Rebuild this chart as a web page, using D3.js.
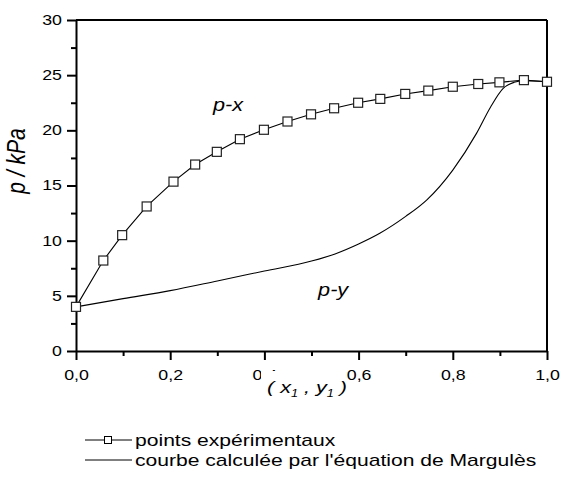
<!DOCTYPE html>
<html>
<head>
<meta charset="utf-8">
<script src="https://cdn.jsdelivr.net/npm/d3@7"></script>
<style>
  body { margin: 0; background: #fff; }
  svg { font-family: "Liberation Sans", Arial, sans-serif; }
  .axis path, .axis line { stroke: #000; stroke-width: 2; }
  .axis text { font-size: 14px; fill: #000; }
</style>
</head>
<body>
<svg width="561" height="479"></svg>
<script>
// experimental points (p-x)
var expX = [0, 0.058, 0.098, 0.15, 0.207, 0.253, 0.299, 0.348, 0.399, 0.449, 0.499,
            0.548, 0.599, 0.646, 0.699, 0.748, 0.80, 0.854, 0.899, 0.951, 1.0];
var expP = [4.0, 8.2, 10.5, 13.1, 15.35, 16.9, 18.05, 19.2, 20.05, 20.8, 21.45,
            22.0, 22.5, 22.85, 23.3, 23.6, 23.95, 24.2, 24.35, 24.55, 24.4];

// calculated curve (Margules) p-y
var calcY = [0, 0.1, 0.2, 0.3, 0.4, 0.5, 0.55, 0.6, 0.645, 0.7, 0.745, 0.8, 0.85, 0.88, 0.907, 0.93, 0.95, 1.0];
var calcP = [4.0, 4.75, 5.47, 6.35, 7.25, 8.15, 8.8, 9.7, 10.67, 12.2, 13.7, 16.4, 19.7, 22.1, 23.8, 24.35, 24.5, 24.4];

var xTicks = [0, 0.2, 0.4, 0.6, 0.8, 1.0];
var xMinor = [0.1, 0.3, 0.5, 0.7, 0.9];
var yTicks = [0, 5, 10, 15, 20, 25, 30];
var yMinor = [2.5, 7.5, 12.5, 17.5, 22.5, 27.5];

var legendLabels = ["points expérimentaux", "courbe calculée par l'équation de Margulès"];

var sx = 1.27; // horizontal stretch of the text in the picture

var svg = d3.select("svg");

var x = d3.scaleLinear().domain([0, 1]).range([76, 547]);
var y = d3.scaleLinear().domain([0, 30]).range([351, 20]);

// frame top / right
svg.append("line").attr("x1", x(0)).attr("x2", x(1)).attr("y1", y(30)).attr("y2", y(30))
  .attr("stroke", "#000").attr("stroke-width", 2);
svg.append("line").attr("x1", x(1)).attr("x2", x(1)).attr("y1", y(30)).attr("y2", y(0))
  .attr("stroke", "#000").attr("stroke-width", 2);

// minor ticks
svg.append("g").attr("class", "axis")
  .attr("transform", "translate(0," + y(0) + ")")
  .call(d3.axisBottom(x).tickValues(xMinor).tickSize(5).tickFormat(""))
  .select(".domain").remove();
svg.append("g").attr("class", "axis")
  .attr("transform", "translate(" + x(0) + ",0)")
  .call(d3.axisLeft(y).tickValues(yMinor).tickSize(5).tickFormat(""))
  .select(".domain").remove();

var xAxis = svg.append("g").attr("class", "axis")
  .attr("transform", "translate(0," + y(0) + ")")
  .call(d3.axisBottom(x).tickValues(xTicks).tickSizeInner(9).tickSizeOuter(0).tickPadding(10)
        .tickFormat(d => d3.format(".1f")(d).replace(".", ",")));
xAxis.selectAll("text").attr("transform", "scale(" + sx + ",1)");

var yAxis = svg.append("g").attr("class", "axis")
  .attr("transform", "translate(" + x(0) + ",0)")
  .call(d3.axisLeft(y).tickValues(yTicks).tickSizeInner(9).tickSizeOuter(0).tickPadding(5)
        .tickFormat(d3.format("d")));
yAxis.selectAll("text").attr("x", -14 / sx).attr("transform", "scale(" + sx + ",1)");

// curves
var line = d3.line().x(d => x(d[0])).y(d => y(d[1]));
var calc = calcY.map((v, i) => [v, calcP[i]]);
var exp = expX.map((v, i) => [v, expP[i]]);

svg.append("path").datum(calc)
  .attr("fill", "none").attr("stroke", "#000").attr("stroke-width", 1.1)
  .attr("d", line.curve(d3.curveMonotoneX));

svg.append("path").datum(exp)
  .attr("fill", "none").attr("stroke", "#000").attr("stroke-width", 1.1)
  .attr("d", d3.line().x(d => x(d[0])).y(d => y(d[1]))(exp));

svg.selectAll(".pt").data(exp).enter().append("rect")
  .attr("class", "pt")
  .attr("x", d => x(d[0]) - 4.5).attr("y", d => y(d[1]) - 4.5)
  .attr("width", 9).attr("height", 9)
  .attr("fill", "#fff").attr("stroke", "#222").attr("stroke-width", 1.2);

// labels p-x, p-y
function label(t, px, py, size) {
  svg.append("text")
    .attr("transform", "translate(" + px + "," + py + ") scale(1.14,1)")
    .attr("font-size", size).attr("font-style", "italic")
    .text(t);
}
label("p-x", x(0.291), y(21.75), 19);
label("p-y", x(0.514), y(5.0), 19);

// axis titles
svg.append("text")
  .attr("transform", "translate(25,161) scale(" + sx + ",1) rotate(-90)")
  .attr("text-anchor", "middle").attr("font-size", 21).attr("font-style", "italic")
  .text("p / kPa");

svg.append("rect").attr("x", 261).attr("y", 371).attr("width", 84).attr("height", 31).attr("fill", "#fff");
var xl = svg.append("text")
  .attr("transform", "translate(307,393) scale(" + sx + ",1)")
  .attr("text-anchor", "middle").attr("font-size", 17).attr("font-style", "italic");
xl.append("tspan").text("( x");
xl.append("tspan").attr("font-size", 10).attr("dy", 4).text("1");
xl.append("tspan").attr("dy", -4).text(" , y");
xl.append("tspan").attr("font-size", 10).attr("dy", 4).text("1");
xl.append("tspan").attr("dy", -4).text(" )");

// legend
var lg = svg.append("g");
lg.append("line").attr("x1", 85).attr("x2", 132).attr("y1", 440).attr("y2", 440).attr("stroke", "#000");
lg.append("rect").attr("x", 104.5).attr("y", 436.5).attr("width", 7).attr("height", 7)
  .attr("fill", "#fff").attr("stroke", "#000");
lg.append("line").attr("x1", 85).attr("x2", 132).attr("y1", 460).attr("y2", 460).attr("stroke", "#000");
lg.selectAll(".lt").data(legendLabels).enter().append("text")
  .attr("class", "lt")
  .attr("transform", (d, i) => "translate(135," + (446 + i * 20) + ") scale(" + sx + ",1)")
  .attr("font-size", 16.6)
  .text(d => d);
</script>
</body>
</html>
